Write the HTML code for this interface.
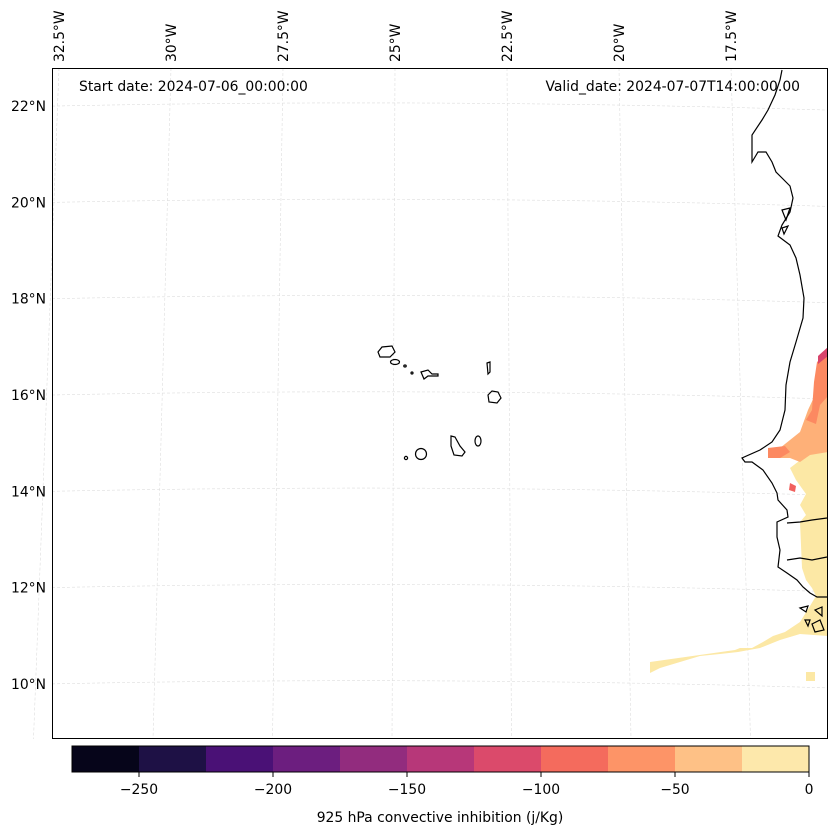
<!DOCTYPE html>
<html><head><meta charset="utf-8">
<style>
body{margin:0;background:#fff;}
svg{display:block;font-family:"DejaVu Sans","Liberation Sans",sans-serif;}
</style></head>
<body>
<svg id="chart" width="837" height="836" viewBox="0 0 837 836">
  <g id="grid"></g>
  <g id="field">
    <polygon fill="#fce8a5" points="828,452 812,450 803,458 790,468 796,480 806,494 800,505 806,515 800,522 802,568 806,580 812,588 816,596 810,606 800,622 785,632 773,636 763,642 752,648 740,648 735,650 650,662 650,673 660,668 680,662 700,656 720,654 738,652 760,648 780,640 800,634 828,636"/>
    <polygon fill="#fce8a5" points="806,672 815,672 815,681 806,681"/>
    <polygon fill="#feb078" points="828,360 818,372 815,395 808,410 800,432 790,440 780,448 770,450 770,458 790,458 800,462 810,455 828,452"/>
    <polygon fill="#fc8961" points="828,352 817,362 814,382 812,410 806,420 816,424 820,405 828,396"/>
    <polygon fill="#fc8961" points="768,448 785,446 790,452 780,458 768,458"/>
    <polygon fill="#f1605d" points="790,483 796,486 795,492 789,490"/>
    <polygon fill="#d8456c" points="828,347 818,356 818,364 828,356"/>
  </g>
  <g fill="none" stroke="#000" stroke-width="1.2">
    <path d="M782,70 L780,80 L775,95 L768,110 L762,120 L752,135 L752,162 L758,152 L766,152 L772,162 L776,172 L782,178 L790,186 L793,198 L790,212 L782,225 L778,236 L790,245 L796,258 L800,275 L804,298 L803,318 L796,342 L790,362 L786,385 L785,410 L780,430 L772,442 L760,450 L742,458 L745,462 L752,462 L763,470 L772,483 L777,493 L778,500 L787,510 L788,517 L777,522 L777,537 L780,550 L778,567 L787,573 L797,580 L803,587 L810,593 L817,597 L827,597"/>
    <path d="M787,523 L800,522 L812,520 L827,518"/>
    <path d="M787,560 L800,558 L812,560 L827,557"/>
    <path d="M800,608 L808,606 L806,612 Z M815,610 L822,607 L822,616 Z M812,624 L820,620 L824,630 L815,632 Z M805,620 L810,620 L808,626 Z M782,210 L790,208 L786,220 Z M782,228 L788,226 L784,234 Z"/>
  </g>
  <g fill="none" stroke="#000" stroke-width="1.2">
    <path d="M378,352 L382,347 L392,346 L395,352 L390,357 L380,357 Z"/>
    <ellipse cx="395" cy="362" rx="4.5" ry="2.5"/>
    <ellipse cx="405" cy="366" rx="1.2" ry="1"/>
    <ellipse cx="412" cy="373" rx="1" ry="1"/>
    <path d="M421,372 L428,370 L432,374 L438,374 L438,376 L428,376 L424,379 Z"/>
    <path d="M487,363 L490,362 L490,372 L488,374 Z"/>
    <path d="M488,395 L492,391 L498,392 L501,398 L497,403 L489,402 Z"/>
    <ellipse cx="421" cy="454" rx="5.5" ry="5.5"/>
    <ellipse cx="406" cy="458" rx="1.6" ry="1.6"/>
    <path d="M451,436 L455,437 L460,446 L465,452 L462,456 L454,455 L451,446 Z"/>
    <ellipse cx="478" cy="441" rx="3" ry="5"/>
  </g>
  <rect x="52.5" y="68.5" width="775" height="670" fill="none" stroke="#000" stroke-width="1"/>
  <text x="79" y="91" font-size="13.9">Start date: 2024-07-06_00:00:00</text>
  <text x="800" y="91" font-size="13.9" text-anchor="end">Valid_date: 2024-07-07T14:00:00.00</text>
  <g id="latlabels" font-size="13.9" text-anchor="end"></g>
  <g id="lonlabels" font-size="13.9"></g>
  <g id="cbar"></g>
  <text x="440" y="822" font-size="13.9" text-anchor="middle">925 hPa convective inhibition (j/Kg)</text>
</svg>
<script>
const NS='http://www.w3.org/2000/svg';
const lats=[22,20,18,16,14,12,10];
const lons=[32.5,30,27.5,25,22.5,20,17.5];
const cbLevels=[-275,-250,-225,-200,-175,-150,-125,-100,-75,-50,-25,0];
const cbColors=['#06051a','#1e1145','#4a1176','#6c1e7f','#922c7e','#b73779','#db4a6b','#f46b5d','#fd9467','#fec186','#fde8ab'];
const cbTicks=[-250,-200,-150,-100,-50,0];
function latY(v){return 395-(v-16)*48.15;}
function lonTop(v){return 395-(v-25)*44.8;}
function lonBot(v){return 392-(v-25)*47.8;}
function cbX(v){return 72+(v+275)*(737/275);}
function mk(tag,attrs,parent){const e=document.createElementNS(NS,tag);for(const k in attrs)e.setAttribute(k,attrs[k]);parent.appendChild(e);return e;}
const grid=document.getElementById('grid');
lats.forEach(v=>{const y=latY(v);
  const p=mk('path',{d:`M52,${y} Q440,${y-8} 828,${y+4}`,fill:'none',stroke:'#ddd','stroke-width':0.6,'stroke-dasharray':'3,2'},grid);
  
  
  const t=mk('text',{x:46,y:y+5},document.getElementById('latlabels'));t.textContent=v+'°N';
  
  
});
lons.forEach(v=>{const x1=lonTop(v),x2=lonBot(v);
  const l=mk('line',{x1:x1,y1:68,x2:x2,y2:739,stroke:'#ddd','stroke-width':0.6,'stroke-dasharray':'3,2'},grid);
  
  
  const t=mk('text',{x:0,y:0,transform:`translate(${x1+5},62) rotate(-90)`},document.getElementById('lonlabels'));t.textContent=v+'°W';
  
  
});
const cb=document.getElementById('cbar');
for(let i=0;i<cbColors.length;i++){
  const r=mk('rect',{x:cbX(cbLevels[i]),y:746,width:cbX(cbLevels[i+1])-cbX(cbLevels[i])+0.5,height:26,fill:cbColors[i]},cb);
  
  
}
mk('rect',{x:72,y:746,width:737,height:26,fill:'none',stroke:'#000','stroke-width':1},cb);
cbTicks.forEach(v=>{const x=cbX(v);
  mk('line',{x1:x,y1:772,x2:x,y2:777,stroke:'#000'},cb);
  const t=mk('text',{x:x,y:794,'font-size':13.9,'text-anchor':'middle'},cb);t.textContent=(v<0?'−'+(-v):v);
  
  
});
</script>
</body></html>
